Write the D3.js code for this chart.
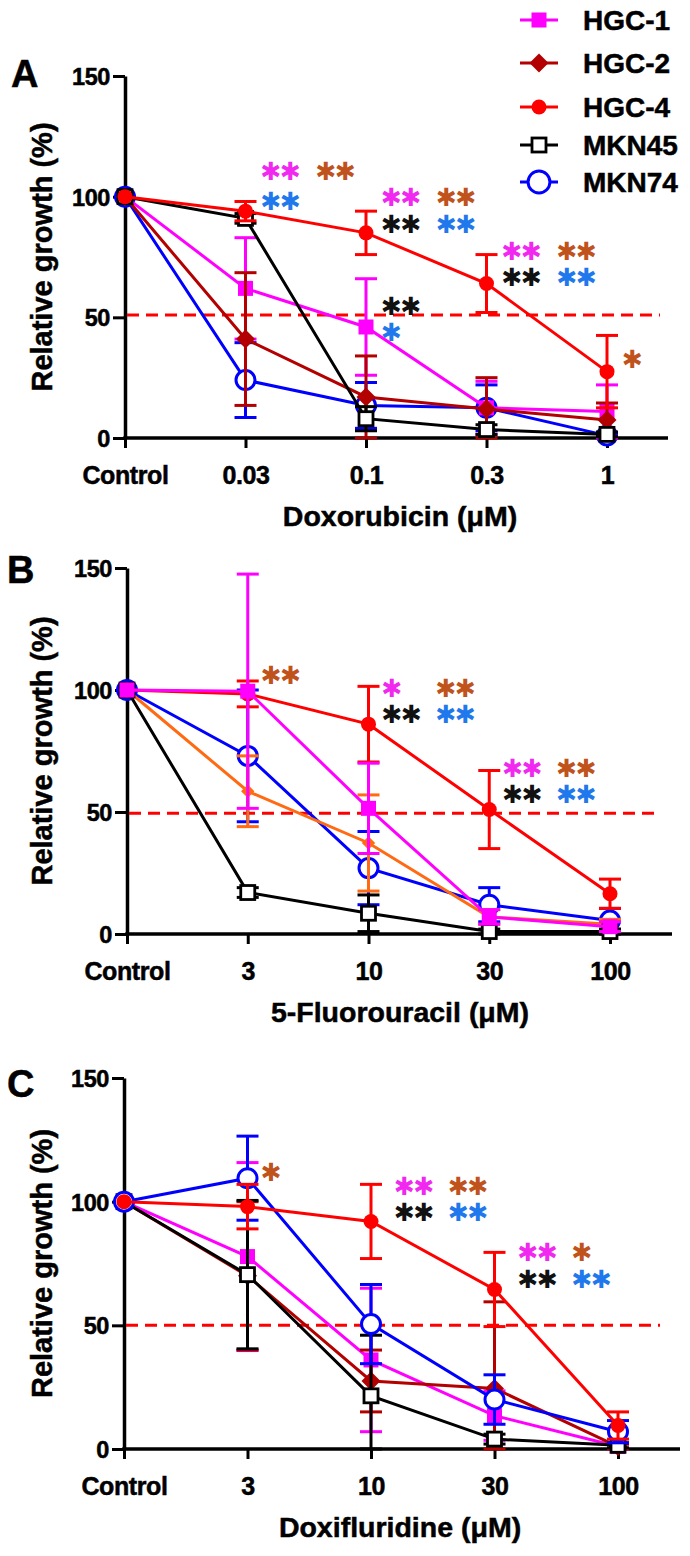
<!DOCTYPE html>
<html><head><meta charset="utf-8">
<script src="https://cdn.jsdelivr.net/npm/d3@7"></script>
<style>
body{margin:0;background:#fff}
svg{display:block}
text{font-family:"Liberation Sans",Arial,Helvetica,sans-serif;font-weight:bold;fill:#000}
.heavy{stroke:#000;stroke-width:0.5px}
.star{font-family:"DejaVu Sans",sans-serif;font-weight:normal}
</style>
</head><body>
<svg id="chart" width="690" height="1556"></svg>
<script>
// ---------------- DATA ----------------
const seriesNames = ["HGC-1","HGC-2","HGC-4","MKN45","MKN74"];
const yTickValues = [0,50,100,150];
const catsA = ["Control","0.03","0.1","0.3","1"];
const catsB = ["Control","3","10","30","100"];
const catsC = ["Control","3","10","30","100"];
const xTitles = ["Doxorubicin (μM)","5-Fluorouracil (μM)","Doxifluridine (μM)"];
const panelLetters = ["A","B","C"];
const refLevels = [51,49.5,50];

// Panel A: Doxorubicin
const hgc1A = [100,62,46,12.5,11],   hgc1A_sd = [0,21,20,11,11];
const hgc2A = [100,41,17,12,7.5],    hgc2A_sd = [0,27.5,17,13,7];
const hgc4A = [100,94,85,64,27.5],   hgc4A_sd = [0,4,9,12,15];
const mkn45A = [100,91,8,3.5,1.5],   mkn45A_sd = [0,2,5,2,1];
const mkn74A = [100,24,13.5,12.5,1], mkn74A_sd = [0,15.5,9.5,9.5,1];

// Panel B: 5-Fluorouracil
const hgc1B = [100,99.5,51.5,7,3],   hgc1B_sd = [0,48,18.5,3,2];
const hgc2B = [100,58.5,37.3,7,4],   hgc2B_sd = [0,14.5,19.7,3,2];
const hgc4B = [100,98.4,86,51,16.5], hgc4B_sd = [0,5.3,15.5,16,6];
const mkn45B = [100,17,8.5,1,1],     mkn45B_sd = [0,2,7.5,1,1];
const mkn74B = [100,73,27,12,5.5],   mkn74B_sd = [0,27,15,7,5];

// Panel C: Doxifluridine
const hgc1C = [100,77.8,36,13.5,1],  hgc1C_sd = [0,38,29,10,1];
const hgc2C = [100,70,27.5,24.5,1],  hgc2C_sd = [0,30,12.5,35,1];
const hgc4C = [100,98,92,64.5,9.5],  hgc4C_sd = [0,9,15,15,5.5];
const mkn45C = [100,70.5,21.5,4,1.5],mkn45C_sd = [0,30,24.5,2,1];
const mkn74C = [100,109.5,50.5,20,7],mkn74C_sd = [0,17,16,10,4.5];

// significance marks: [category, level, column, text, colour key]
const starsA = [
  ["0.03",110.4,0,"✱✱","m"],["0.03",110.4,1,"✱✱","b"],["0.03",97.9,0,"✱✱","u"],
  ["0.1",99.6,0,"✱✱","m"],["0.1",99.6,1,"✱✱","b"],["0.1",88.4,0,"✱✱","k"],["0.1",88.4,1,"✱✱","u"],
  ["0.1",54.4,0,"✱✱","k"],["0.1",43.6,0,"✱","u"],
  ["0.3",77.2,0,"✱✱","m"],["0.3",77.2,1,"✱✱","b"],["0.3",66.4,0,"✱✱","k"],["0.3",66.4,1,"✱✱","u"],
  ["1",32.4,0,"✱","b"]
];
const starsB = [
  ["3",106.1,0,"✱✱","b"],
  ["10",100.8,0,"✱","m"],["10",100.8,1,"✱✱","b"],["10",89.8,0,"✱✱","k"],["10",89.8,1,"✱✱","u"],
  ["30",68,0,"✱✱","m"],["30",68,1,"✱✱","b"],["30",57,0,"✱✱","k"],["30",57,1,"✱✱","u"]
];
const starsC = [
  ["3",111.7,-0.18,"✱","b"],
  ["10",106,0,"✱✱","m"],["10",106,1,"✱✱","b"],["10",95.5,0,"✱✱","k"],["10",95.5,1,"✱✱","u"],
  ["30",79.4,0,"✱✱","m"],["30",79.4,1,"✱","b"],["30",68.4,0,"✱✱","k"],["30",68.4,1,"✱✱","u"]
];

// ---------------- STYLE ----------------
const starColors = {m:"#f028f0", b:"#c0521c", k:"#111111", u:"#1f78ec"};
const baseColors = {"HGC-1":"#ff00ff","HGC-2":"#b30000","HGC-4":"#ff0000","MKN45":"#000000","MKN74":"#0000ff"};
const markerTypes = {"HGC-1":"square","HGC-2":"diamond","HGC-4":"circle","MKN45":"osquare","MKN74":"ocircle"};

const panels = [
  {cats:catsA, top:76, bottom:438, left:125, right:607, end:668, dashEnd:660, letterY:87, letterX:11, colX:[16,71],
   vals:{"HGC-1":[hgc1A,hgc1A_sd],"HGC-2":[hgc2A,hgc2A_sd],"HGC-4":[hgc4A,hgc4A_sd],"MKN45":[mkn45A,mkn45A_sd],"MKN74":[mkn74A,mkn74A_sd]},
   order:["MKN74","HGC-1","HGC-2","MKN45","HGC-4"], colors:{}, stars:starsA},
  {cats:catsB, top:568, bottom:934, left:127, right:610, end:672, dashEnd:660, letterY:583, letterX:7, colX:[14,68],
   vals:{"HGC-1":[hgc1B,hgc1B_sd],"HGC-2":[hgc2B,hgc2B_sd],"HGC-4":[hgc4B,hgc4B_sd],"MKN45":[mkn45B,mkn45B_sd],"MKN74":[mkn74B,mkn74B_sd]},
   order:["MKN74","HGC-2","MKN45","HGC-4","HGC-1"], colors:{"HGC-2":"#ff6a13"}, stars:starsB},
  {cats:catsC, top:1078, bottom:1449, left:124, right:618, end:680, dashEnd:660, letterY:1097, letterX:7, colX:[24,78],
   vals:{"HGC-1":[hgc1C,hgc1C_sd],"HGC-2":[hgc2C,hgc2C_sd],"HGC-4":[hgc4C,hgc4C_sd],"MKN45":[mkn45C,mkn45C_sd],"MKN74":[mkn74C,mkn74C_sd]},
   order:["HGC-1","HGC-2","MKN45","MKN74","HGC-4"], colors:{}, stars:starsC}
];

const svg = d3.select("#chart");

function drawMarker(g, type, color, cx, cy, scale=1) {
  if (type === "square") {
    const s = 15*scale;
    g.append("rect").attr("x",cx-s/2).attr("y",cy-s/2).attr("width",s).attr("height",s).attr("fill",color);
  } else if (type === "diamond") {
    const r = 9.5*scale;
    g.append("path").attr("d",`M${cx},${cy-r}L${cx+r},${cy}L${cx},${cy+r}L${cx-r},${cy}Z`).attr("fill",color);
  } else if (type === "circle") {
    g.append("circle").attr("cx",cx).attr("cy",cy).attr("r",7.5*scale).attr("fill",color);
  } else if (type === "osquare") {
    const s = 14*scale;
    g.append("rect").attr("x",cx-s/2).attr("y",cy-s/2).attr("width",s).attr("height",s)
      .attr("fill","#fff").attr("stroke",color).attr("stroke-width",2.8);
  } else if (type === "ocircle") {
    g.append("circle").attr("cx",cx).attr("cy",cy).attr("r",9.5*scale)
      .attr("fill","#fff").attr("stroke",color).attr("stroke-width",3);
  }
}

panels.forEach((p, pi) => {
  const x = d3.scalePoint().domain(p.cats).range([p.left, p.right]);
  const y = d3.scaleLinear().domain([0,150]).range([p.bottom, p.top]);
  const g = svg.append("g");

  // panel letter
  g.append("text").attr("class","heavy").attr("x",p.letterX).attr("y",p.letterY).attr("font-size",38).text(panelLetters[pi]);

  // y axis
  const ya = g.append("g").attr("transform",`translate(${p.left},0)`)
    .call(d3.axisLeft(y).tickValues(yTickValues).tickSize(12).tickPadding(3).tickSizeOuter(0));
  ya.select(".domain").attr("stroke","#000").attr("stroke-width",3.5);
  ya.selectAll(".tick line").attr("stroke","#000").attr("stroke-width",3);
  ya.selectAll(".tick text").attr("font-size",23.5).attr("font-family",null).attr("font-weight","bold")
    .attr("dy","0.36em").attr("class","heavy").attr("letter-spacing",-0.4);

  // x axis
  const xa = g.append("g").attr("transform",`translate(0,${p.bottom})`)
    .call(d3.axisBottom(x).tickSize(10).tickPadding(18).tickSizeOuter(0));
  xa.select(".domain").remove();
  xa.selectAll(".tick line").attr("stroke","#000").attr("stroke-width",3);
  xa.selectAll(".tick text").attr("font-size",25).attr("font-family",null).attr("font-weight","bold")
    .attr("class","heavy").attr("letter-spacing",-0.4);
  g.append("line").attr("x1",p.left-1.75).attr("x2",p.end).attr("y1",p.bottom).attr("y2",p.bottom)
    .attr("stroke","#000").attr("stroke-width",3.5);

  // axis titles
  g.append("text").attr("class","heavy").attr("x",400).attr("y",p.bottom+88).attr("text-anchor","middle")
    .attr("font-size",28.5).text(xTitles[pi]);
  g.append("text").attr("class","heavy").attr("transform",`translate(52,${(p.top+p.bottom)/2}) rotate(-90)`)
    .attr("text-anchor","middle").attr("font-size",29).text("Relative growth (%)");

  // reference dashed line
  g.append("line").attr("x1",p.left+2).attr("x2",p.dashEnd).attr("y1",y(refLevels[pi])).attr("y2",y(refLevels[pi]))
    .attr("stroke","#ff0000").attr("stroke-width",3).attr("stroke-dasharray","12,7");

  // series
  const line = d3.line().x(d => x(d.c)).y(d => y(d.v));
  p.order.forEach(name => {
    const color = p.colors[name] || baseColors[name];
    const [vals, sds] = p.vals[name];
    const pts = vals.map((v,i) => ({c:p.cats[i], v, sd:sds[i]}));
    const sg = g.append("g");
    sg.append("path").datum(pts).attr("d",line).attr("fill","none").attr("stroke",color).attr("stroke-width",3);
    pts.forEach(d => {
      if (d.sd > 0) {
        const hi = y(d.v + d.sd), lo = y(Math.max(0, d.v - d.sd)), cx = x(d.c);
        sg.append("line").attr("x1",cx).attr("x2",cx).attr("y1",hi).attr("y2",lo).attr("stroke",color).attr("stroke-width",3);
        sg.append("line").attr("x1",cx-11).attr("x2",cx+11).attr("y1",hi).attr("y2",hi).attr("stroke",color).attr("stroke-width",3);
        sg.append("line").attr("x1",cx-11).attr("x2",cx+11).attr("y1",lo).attr("y2",lo).attr("stroke",color).attr("stroke-width",3);
      }
    });
    const scale = (name === "HGC-2" && p.colors[name]) ? 0.7 : 1;
    pts.forEach(d => drawMarker(sg, markerTypes[name], color, x(d.c), y(d.v), scale));
  });

  // significance asterisks
  const colStep = p.colX[1] - p.colX[0];
  p.stars.forEach(([c, lvl, col, txt, ck]) => {
    g.append("text").attr("class","star")
      .attr("x", x(c) + p.colX[0] + col*colStep - 1)
      .attr("y", y(lvl))
      .attr("dominant-baseline","central")
      .attr("font-size",25).attr("letter-spacing",-1.5)
      .style("fill", starColors[ck]).text(txt);
  });
});

// legend
const legendY = [20,63,107,145,182];
const lg = svg.append("g");
seriesNames.forEach((name,i) => {
  const cy = legendY[i];
  lg.append("line").attr("x1",520).attr("x2",558).attr("y1",cy).attr("y2",cy)
    .attr("stroke",baseColors[name]).attr("stroke-width",3);
  drawMarker(lg, markerTypes[name], baseColors[name], 539, cy, name === "MKN74" ? 1.15 : 1);
  lg.append("text").attr("class","heavy").attr("x",583).attr("y",cy+10).attr("font-size",28).text(name);
});
</script>
</body></html>
